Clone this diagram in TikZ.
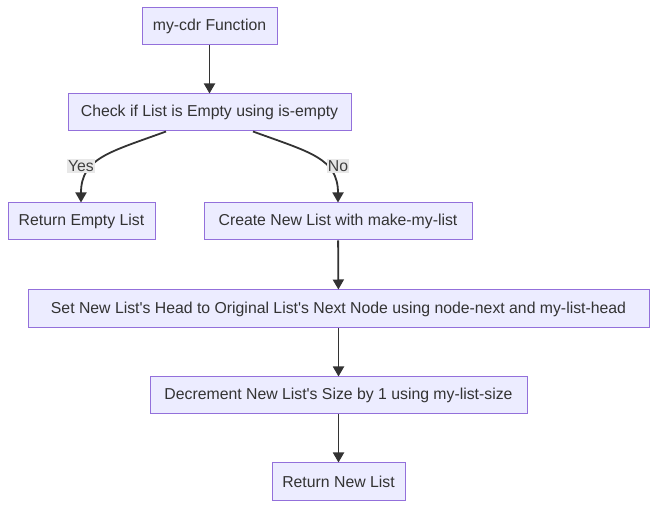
\documentclass[tikz,border=0pt]{standalone}
\usepackage{fontspec}
\setmainfont{Liberation Sans}
\usetikzlibrary{arrows.meta}
\definecolor{boxfill}{HTML}{ECECFF}
\definecolor{boxline}{HTML}{9370DB}
\definecolor{edgeline}{HTML}{333333}
\definecolor{labelfill}{HTML}{E8E8E8}
\tikzset{
  flowbox/.style  = {draw = boxline, fill = boxfill, line width = 1pt,
                     inner sep = 0pt, font = \fontsize{15.8}{18}\selectfont,
                     text = black!80},
  flowedge/.style = {draw = edgeline, line width = 1.8pt,
                     -{Triangle[length = 10pt, width = 11pt]}},
  edgelabel/.style= {fill = labelfill, inner sep = 1pt,
                     font = \fontsize{15.8}{18}\selectfont, text = black!75}
}
\begin{document}
\begin{tikzpicture}[x = 1pt, y = -1pt]
    \useasboundingbox (0, 0) rectangle (657, 510);
    % boxes of the flowchart
    \node[flowbox, minimum width = 135pt, minimum height = 37pt] (start)  at (209.5,  26.5) {my-cdr Function};
    \node[flowbox, minimum width = 283pt, minimum height = 37pt] (check)  at (209.5, 112.5) {Check if List is Empty using is-empty};
    \node[flowbox, minimum width = 147pt, minimum height = 37pt] (empty)  at ( 81.5, 221.5) {Return Empty List};
    \node[flowbox, minimum width = 268pt, minimum height = 37pt] (create) at (338,   221.5) {Create New List with make-my-list};
    \node[flowbox, minimum width = 621pt, minimum height = 38pt] (head)   at (338.5, 309)   {Set New List\textquotesingle s Head to Original List\textquotesingle s Next Node using node-next and my-list-head};
    \node[flowbox, minimum width = 377pt, minimum height = 37pt] (size)   at (338.5, 395.5) {Decrement New List\textquotesingle s Size by 1 using my-list-size};
    \node[flowbox, minimum width = 133pt, minimum height = 38pt] (result) at (338.5, 482)   {Return New List};
    % connectors
    \draw[flowedge] (start) -- (check);
    \draw[flowedge] ([xshift = -43.5pt]check.south) .. controls (110, 152) and (81, 158) .. ([xshift = -0.5pt]empty.north);
    \draw[flowedge] ([xshift =  43.5pt]check.south) .. controls (309, 152) and (338, 158) .. (create.north);
    \draw[flowedge] (create) -- (head);
    \draw[flowedge] (head) -- (size);
    \draw[flowedge] (size) -- (result);
    % labels on the branches
    \node[edgelabel] (yes) at ( 81, 166) {Yes};
    \node[edgelabel] (no)  at (338, 166) {No};
\end{tikzpicture}
\end{document}
